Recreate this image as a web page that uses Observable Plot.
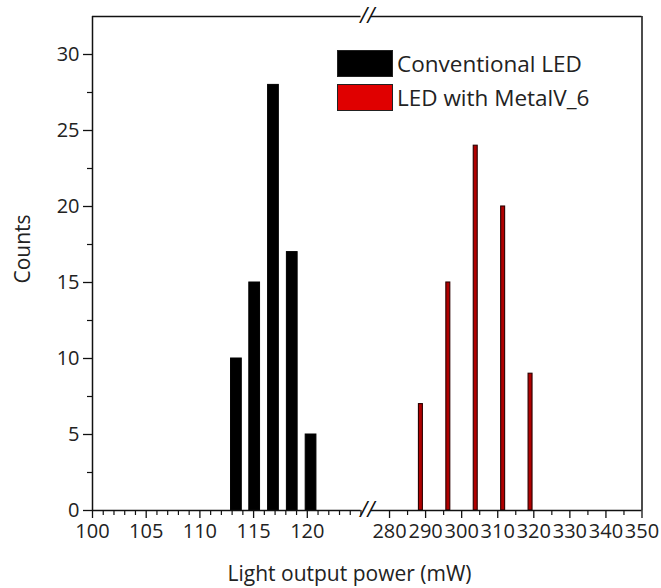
<!DOCTYPE html>
<html>
<head>
<meta charset="utf-8">
<script src="https://cdn.jsdelivr.net/npm/d3@7"></script>
<script src="https://cdn.jsdelivr.net/npm/@observablehq/plot@0.6"></script>
<style>
  html, body { margin: 0; padding: 0; background: #fff; }
  #chart { position: relative; width: 661px; height: 588px; font-family: "Open Sans", sans-serif; }
  #chart svg { display: block; }
  .legend { position: absolute; left: 337px; top: 46px; font-size: 22.5px; color: #222; }
  .legend .row { display: flex; align-items: center; height: 34px; }
  .legend .sw { width: 56px; height: 27px; box-sizing: border-box; margin-right: 4px; }
</style>
</head>
<body>
<div id="chart"></div>
<script>
// Light output power histograms (counts per bin)
const seriesNames = ["Conventional LED", "LED with MetalV_6"];
const seriesColors = ["#000000", "#e00000"];

const conventionalPower = [113.4, 115.1, 116.85, 118.6, 120.35];
const conventionalCounts = [10, 15, 28, 17, 5];

const metalPower = [288.7, 296.3, 303.9, 311.5, 319.1];
const metalCounts = [7, 15, 24, 20, 9];

// Broken x axis: two linear segments
const xSegmentLeft = [100, 125];
const xSegmentRight = [275, 350];
const xTicksLeft = [100, 105, 110, 115, 120];
const xTicksRight = [280, 290, 300, 310, 320, 330, 340, 350];
const yTicks = [0, 5, 10, 15, 20, 25, 30];
const yMax = 32.5;

const conventional = conventionalPower.map((p, i) => ({power: p, count: conventionalCounts[i]}));
const metal = metalPower.map((p, i) => ({power: p, count: metalCounts[i]}));

const xMinorLeft = d3.range(xSegmentLeft[0], xSegmentLeft[1] + 1, 1).filter(v => !xTicksLeft.includes(v));
const xMinorRight = d3.range(285, 350, 10);
const yMinor = d3.range(2.5, 30, 5);
const breakAt = (xSegmentLeft[1] + xSegmentRight[0]) / 2;

const font = "Open Sans, sans-serif";

const chart = Plot.plot({
  width: 661,
  height: 588,
  marginLeft: 92,
  marginRight: 19,
  marginTop: 16,
  marginBottom: 78,
  style: {fontFamily: font, background: "#fff", color: "#222"},
  x: {
    type: "linear",
    domain: [xSegmentLeft[0], xSegmentLeft[1], xSegmentRight[0], xSegmentRight[1]],
    range: [92, 360.5, 371, 641.5]
  },
  y: {domain: [0, yMax], range: [510, 16]},
  marks: [
    // bars
    Plot.rectY(conventional, {x1: d => d.power - 0.5, x2: d => d.power + 0.5, y: "count", fill: seriesColors[0], stroke: "#000", strokeWidth: 1}),
    Plot.rectY(metal, {x1: d => d.power - 0.55, x2: d => d.power + 0.55, y: "count", fill: "#b00000", stroke: "#2a0000", strokeWidth: 1.1}),

    // frame with a break in the top and bottom edges
    Plot.ruleY([0], {x1: xSegmentLeft[0], x2: xSegmentLeft[1], stroke: "#111", strokeWidth: 1.5}),
    Plot.ruleY([0], {x1: xSegmentRight[0], x2: xSegmentRight[1], stroke: "#111", strokeWidth: 1.5}),
    Plot.ruleY([yMax], {x1: xSegmentLeft[0], x2: xSegmentLeft[1], stroke: "#111", strokeWidth: 1.5}),
    Plot.ruleY([yMax], {x1: xSegmentRight[0], x2: xSegmentRight[1], stroke: "#111", strokeWidth: 1.5}),
    Plot.ruleX([xSegmentLeft[0]], {y1: 0, y2: yMax, stroke: "#111", strokeWidth: 1.5}),
    Plot.ruleX([xSegmentRight[1]], {y1: 0, y2: yMax, stroke: "#111", strokeWidth: 1.5}),
    Plot.text([0, yMax], {x: breakAt, y: d => d, text: () => "//", fontSize: 21, fill: "#111", dx: 1, fontStyle: "italic"}),

    // x axis
    Plot.axisX([...xTicksLeft, ...xTicksRight], {tickSize: 8, tickPadding: 5, fontSize: 20, stroke: "#111", strokeWidth: 1.3, fill: "#222", label: null}),
    Plot.axisX([...xMinorLeft, ...xMinorRight], {tickSize: 5, text: null, stroke: "#111", strokeWidth: 1.2, label: null}),

    // y axis
    Plot.axisY(yTicks, {tickSize: 9, tickPadding: 4, fontSize: 20, stroke: "#111", strokeWidth: 1.3, fill: "#222", label: null}),
    Plot.axisY(yMinor, {tickSize: 5, text: null, stroke: "#111", strokeWidth: 1.2, label: null}),

    // axis titles
    Plot.text(["Light output power (mW)"], {frameAnchor: "bottom", text: d => d, dx: -18, dy: 56, lineAnchor: "top", fontSize: 21, fill: "#222"}),
    Plot.text(["Counts"], {frameAnchor: "left", text: d => d, dx: -69, dy: 20, rotate: -90, fontSize: 21, fill: "#222"})
  ]
});

const root = document.getElementById("chart");
root.appendChild(chart);

// legend
const legend = document.createElement("div");
legend.className = "legend";
seriesNames.forEach((name, i) => {
  const row = document.createElement("div");
  row.className = "row";
  const sw = document.createElement("div");
  sw.className = "sw";
  sw.style.background = seriesColors[i];
  sw.style.border = "1px solid #222";
  const label = document.createElement("span");
  label.textContent = name;
  row.appendChild(sw);
  row.appendChild(label);
  legend.appendChild(row);
});
root.appendChild(legend);
</script>
</body>
</html>
